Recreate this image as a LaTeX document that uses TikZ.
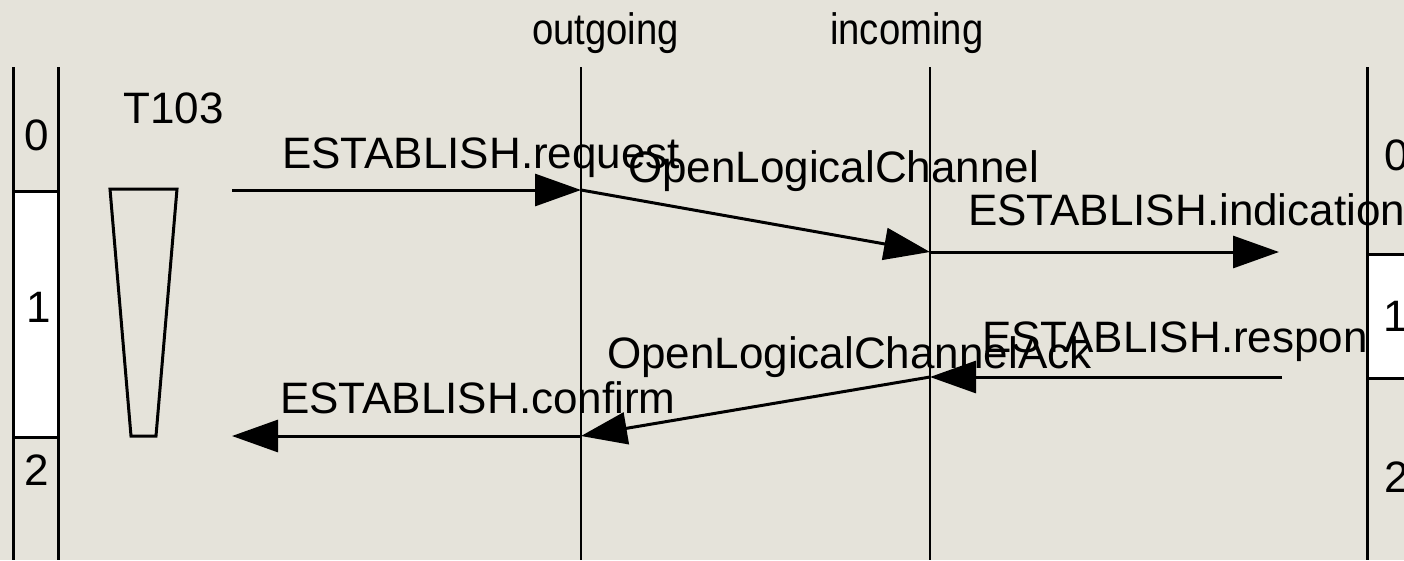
\documentclass[tikz,border=0pt]{standalone}
\usepackage{graphicx}
\usepackage{fontspec}
\setmainfont{Liberation Sans}
\usetikzlibrary{arrows.meta,positioning}
\definecolor{paper}{RGB}{229,227,218}
\newcommand{\narrow}[1]{\scalebox{0.87}[1]{#1}}
\tikzset{
    lifeline/.style={line width=2pt, black},
    msg/.style={line width=3pt, -{Triangle[length=46pt,width=32pt]}},
    msg label/.style={anchor=base west, inner sep=0pt, font=\fontsize{44}{50}\selectfont},
    state label/.style={anchor=base, inner sep=0pt, font=\fontsize{44}{50}\selectfont},
    state line/.style={line width=3pt, black},
    state box/.style={draw, line width=3pt, fill=white},
    timer/.style={draw, line width=3pt}
}

\begin{document}
\begin{tikzpicture}[x=1pt,y=-1pt]
    \fill[paper] (0,0) rectangle (1404,560);
    \useasboundingbox (0,0) rectangle (1404,560);
    \clip (0,0) rectangle (1404,560);

    \coordinate (out top) at (581,67);
    \coordinate (out bot) at (581,560);
    \coordinate (in top) at (930,67);
    \coordinate (in bot) at (930,560);
    \coordinate (t1) at (232,190);
    \coordinate (o1) at (581,190);
    \coordinate (i1) at (930,252);
    \coordinate (u1) at (1279,252);
    \coordinate (u2) at (1282,377);
    \coordinate (i2) at (930,377);
    \coordinate (o2) at (581,436);
    \coordinate (t2) at (232,436);

    \node[msg label] (outgoing) at (532,44) {\narrow{outgoing}};
    \node[msg label] (incoming) at (830,44) {\narrow{incoming}};
    \node[msg label] (timer name) at (123,123) {T103};

    \node[msg label] (req) at (282,168) {ESTABLISH.request};
    \node[msg label] (olc) at (628,182) {OpenLogicalChannel};
    \node[msg label] (ind) at (968,225) {ESTABLISH.indication};
    \node[msg label] (rsp) at (982,352) {ESTABLISH.response};
    \node[msg label] (olca) at (607,368) {OpenLogicalChannelAck};
    \node[msg label] (cnf) at (280,413) {ESTABLISH.confirm};

    \draw[lifeline] (out top) -- (out bot);
    \draw[lifeline] (in top) -- (in bot);

    \draw[msg] (t1) -- (o1);
    \draw[msg] (o1) -- (i1);
    \draw[msg] (i1) -- (u1);
    \draw[msg] (u2) -- (i2);
    \draw[msg] (i2) -- (o2);
    \draw[msg] (o2) -- (t2);

    \draw[timer] (110,189) -- (177,189) -- (156,436) -- (131,436) -- cycle;

    \draw[state line] (13,67) -- (13,560);
    \draw[state line] (58,67) -- (58,560);
    \draw[state box] (13,191) rectangle (58,437);
    \node[state label] (l0) at (37,150) {0};
    \node[state label] (l1) at (39,322) {1};
    \node[state label] (l2) at (37,485) {2};

    \draw[state line] (1367,67) -- (1367,560);
    \draw[state box] (1367,254) rectangle (1420,378);
    \node[state label] (r0) at (1397,170) {0};
    \node[state label] (r1) at (1396,331) {1};
    \node[state label] (r2) at (1397,492) {2};
\end{tikzpicture}
\end{document}
